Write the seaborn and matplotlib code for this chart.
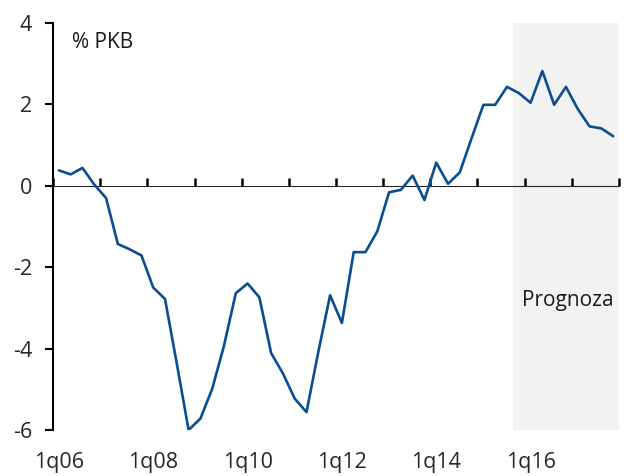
import matplotlib
matplotlib.use("Agg")
import matplotlib.pyplot as plt
import seaborn as sns
import pandas as pd
import numpy as np

# Quarterly current account balance, % of GDP, 1q06-4q17
years = list(range(2006, 2018))
quarters = [f"{q}q{y % 100:02d}" for y in years for q in range(1, 5)]
values = [
    0.38, 0.28, 0.44, 0.03,
    -0.30, -1.43, -1.56, -1.71,
    -2.50, -2.78, -4.37, -6.00,
    -5.72, -4.99, -3.93, -2.64,
    -2.40, -2.74, -4.11, -4.61,
    -5.23, -5.56, -4.08, -2.69,
    -3.37, -1.63, -1.63, -1.12,
    -0.16, -0.10, 0.25, -0.35,
    0.57, 0.05, 0.33, 1.17,
    1.99, 1.99, 2.43, 2.28,
    2.04, 2.82, 1.99, 2.43,
    1.89, 1.46, 1.41, 1.22,
]
forecast_start = "4q15"
yticks = [4, 2, 0, -2, -4, -6]
xlabel_every = 8

df = pd.DataFrame({"quarter": quarters, "value": values})
df["pos"] = np.arange(len(df))

sns.set_style("white")
plt.rcParams["font.family"] = ["Open Sans", "DejaVu Sans"]
plt.rcParams["axes.unicode_minus"] = False

fig = plt.figure(figsize=(6.24, 4.76), dpi=100)
ax = fig.add_axes([53 / 624, 1 - 430 / 476, 566 / 624, 407 / 476])

n = len(df)
fpos = quarters.index(forecast_start)
ax.axvspan(fpos - 0.5, n - 0.5 + 0.15, color="#f2f2f2", zorder=0, lw=0)

sns.lineplot(data=df, x="pos", y="value", ax=ax, color="#0b4d92",
             linewidth=1.9, zorder=3)

ax.set_xlim(-0.5, n - 0.5)
ax.set_ylim(-6, 4)

# y axis
ax.set_yticks(yticks)
ax.set_yticklabels([str(v) for v in yticks])
ax.tick_params(axis="y", direction="out", length=6, width=1.5,
               color="black", labelsize=15.5, pad=9, left=True)
for s in ["top", "right", "bottom"]:
    ax.spines[s].set_visible(False)
ax.spines["left"].set_color("black")
ax.spines["left"].set_linewidth(1.5)

# category labels along the bottom
ax.set_xticks(df["pos"][::xlabel_every])
ax.set_xticklabels(df["quarter"][::xlabel_every])
ax.tick_params(axis="x", length=0, labelsize=15.5, pad=16)
ax.set_xlabel("")
ax.set_ylabel("")

# zero line with year-boundary tick marks
zero_axis = ax.secondary_xaxis(0.6)
zero_axis.spines["bottom"].set_linewidth(2.2)
zero_axis.spines["bottom"].set_color("black")
zero_axis.set_xticks(np.arange(-0.5, n, 4))
zero_axis.set_xticklabels([])
zero_axis.tick_params(axis="x", direction="out", length=6, width=1.8,
                      color="black")

ax.text(0.034, 0.951, "% PKB", transform=ax.transAxes, fontsize=15,
        va="center", ha="left", color="#1a1a1a")
ax.text(0.828, 0.317, "Prognoza", transform=ax.transAxes, fontsize=15,
        va="center", ha="left", color="#1a1a1a")

fig.savefig("out.png", dpi=100)
